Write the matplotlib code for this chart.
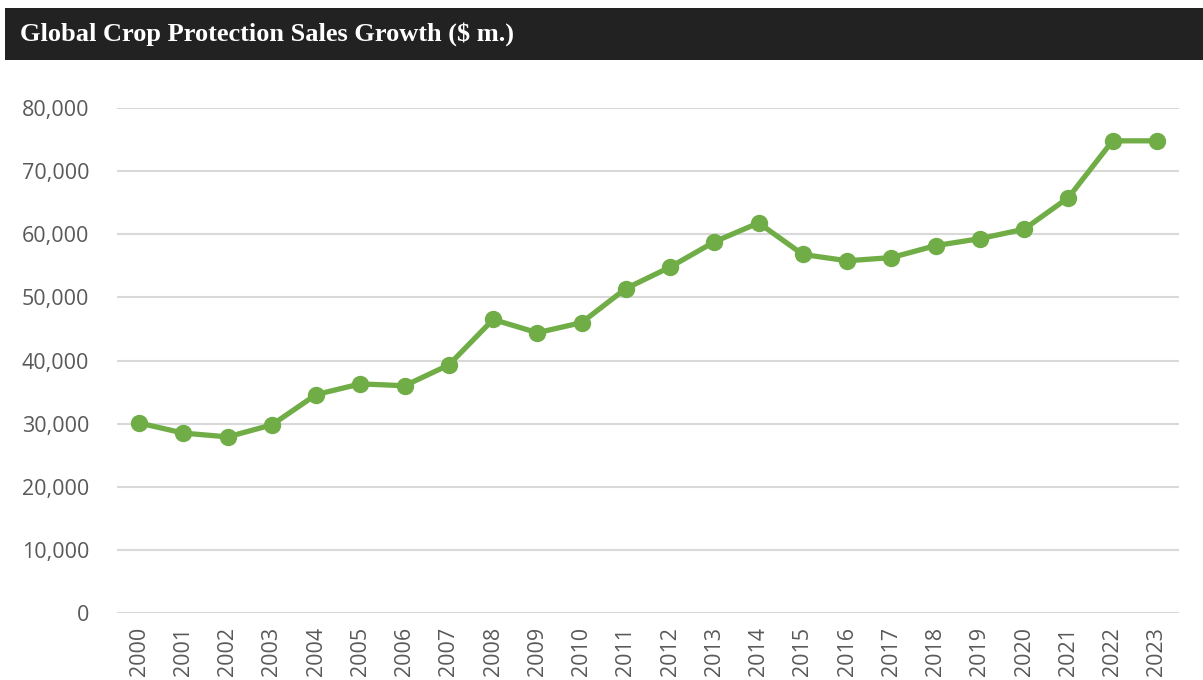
import matplotlib
matplotlib.use("Agg")
import matplotlib.pyplot as plt
from matplotlib.patches import Rectangle
from matplotlib.ticker import FuncFormatter

years = [str(y) for y in range(2000, 2024)]
sales = [30100, 28500, 27900, 29800, 34600, 36300, 36000, 39300, 46500, 44400,
         46000, 51400, 54800, 58800, 61800, 56800, 55800, 56300, 58200, 59300,
         60800, 65800, 74800, 74800]
yticks = [0, 10000, 20000, 30000, 40000, 50000, 60000, 70000, 80000]
title = "Global Crop Protection Sales Growth ($ m.)"

W, H = 1203, 680
fig = plt.figure(figsize=(W / 100, H / 100), dpi=100)
fig.patch.set_facecolor("white")

# title bar
fig.patches.append(Rectangle((5 / W, 1 - 60 / H), 1 - 5 / W, 52 / H,
                             transform=fig.transFigure, facecolor="#222222",
                             edgecolor="none", zorder=0))
fig.text(20 / W, 1 - 34 / H, title, family="Liberation Serif", weight="bold",
         fontsize=19, color="white", va="center", ha="left")

ax = fig.add_axes([117 / W, (H - 613) / H, (1179 - 117) / W, (613 - 108) / H])
x = list(range(len(years)))
ax.plot(x, sales, color="#70AD47", linewidth=3.8, marker="o", markersize=11.5,
        solid_capstyle="round", zorder=3, clip_on=False)

ax.set_xlim(-0.5, len(years) - 0.5)
ax.set_ylim(0, 80000)
ax.set_yticks(yticks)
ax.yaxis.set_major_formatter(FuncFormatter(lambda v, p: f"{int(v):,}"))
ax.set_xticks(x)
ax.set_xticklabels(years, rotation=90)
ax.grid(axis="y", color="#D9D9D9", linewidth=1.5)
ax.set_axisbelow(True)
for s in ax.spines.values():
    s.set_visible(False)
ax.tick_params(axis="both", length=0, labelsize=15.5, labelcolor="#595959")
ax.tick_params(axis="y", pad=20)
ax.tick_params(axis="x", pad=10)
for lab in ax.get_xticklabels() + ax.get_yticklabels():
    lab.set_family("Open Sans")

fig.savefig("out.png", dpi=100)
